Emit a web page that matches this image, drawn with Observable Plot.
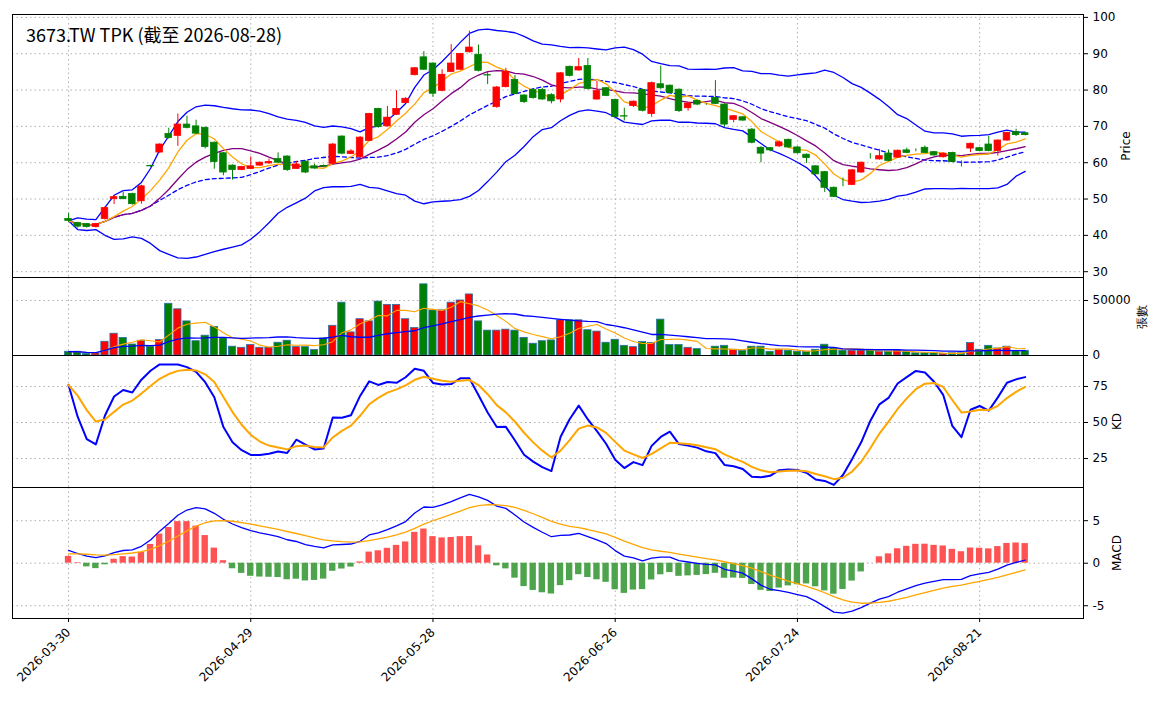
<!DOCTYPE html>
<html><head><meta charset="utf-8">
<script src="https://cdn.jsdelivr.net/npm/d3@7"></script>
<script src="https://cdn.jsdelivr.net/npm/@observablehq/plot@0.6"></script>
<style>
body{margin:0;background:#fff;font-family:"DejaVu Sans",sans-serif;}
#wrap{position:relative;width:1163px;height:703px;}
#wrap svg{display:block;}
#title{position:absolute;left:26px;top:21px;font-family:"Noto Sans CJK TC";font-size:18px;font-weight:400;z-index:2;}
</style></head><body>
<div id="wrap"><div id="title">3673.TW TPK (截至 2026-08-28)</div></div>
<script>
const tickIdx=[0,20,40,60,80,100];
const tickLabels=["2026-03-30","2026-04-29","2026-05-28","2026-06-26","2026-07-24","2026-08-21"];
const opens=[44.5,43.4,43.1,42.3,44.5,50,50.6,51.4,49.4,59.1,62.8,67.9,67.4,70.5,70,69.6,65.5,62.6,59.2,58,58.3,59.2,59.8,61,61.7,58.3,60.3,59,59.1,59.7,67.2,62.4,61.5,66,74.8,70,73.2,76.4,84.1,89,87.3,79.8,85,85.6,90.4,89.7,84.1,75.3,80.8,82.8,78.5,80,80,78.6,77.4,86.4,85.4,86.6,77.4,80.5,77.3,72.8,75.6,80,73.4,81.6,81.2,80.1,75,77,76,77.8,76,71.8,72.5,69.1,64.1,64,64.5,66.3,64.2,62.2,59,57.4,53.1,54.8,53.9,57.3,61.7,60.9,62.5,61.4,63.4,63.4,64.1,62.9,61.5,62.7,60.2,63.9,64,65,63.2,66.1,68.4,68.1];
const closes=[44,42.4,42.3,43.1,47.5,50.5,50,48.6,53.5,59,65,66.8,70.5,69.6,68,64.3,60.2,57.3,58,58.8,59,60,60.2,60,58,59.5,57.3,58.4,58.9,65,62.5,63.1,66.9,73.4,69.8,72.4,74.8,77.6,86,85.6,79,84.2,87.3,89.9,91.7,85.3,84,80.7,85,78.9,76.7,77.8,77.4,76.9,84.6,83.9,86.3,80.3,79.7,78.4,72.6,72.7,76.8,74.3,81.9,80.5,79.2,74.2,76.3,76,76,76.2,70.5,72.8,71.6,65.5,62.5,63.4,65.6,64.2,62.6,61.3,56.8,53.1,50.6,54.8,57.9,60,61.7,61.8,60.5,63.3,62.7,63.4,62.7,62,62.5,60.2,60.2,65.2,63.2,63.2,66.1,68.2,67.6,67.6];
const highs=[46,43.6,43.3,43.3,47.8,51,51.8,51.6,53.8,59.3,65.2,69.5,73.4,72.8,71.7,69.8,65.7,62.8,59.4,59,61.6,60.2,61,62.7,61.9,60.4,60.5,59.6,59.4,65.3,67.4,63.6,67.2,73.6,75,75.5,79.8,77.9,86.2,90.6,87.5,85.6,92.5,90.1,96.2,92.4,85,81,86,84,78.7,80.3,80.5,79,84.8,86.6,88.7,88.7,82.4,80.7,77.5,75,77,80.2,82.2,86.6,81.4,80.3,76.5,77.3,76.2,82.6,76.2,73,72.7,69.4,64.4,64.2,66,66.5,64.4,62.4,59.2,57.6,53.3,55.8,58.1,60.2,62.5,63.7,63.5,63.5,64,63.8,64.6,63.1,62.7,62.9,60.5,65.4,64.2,67.3,66.3,68.4,69.2,68.3];
const lows=[43.5,42,42,42,44.2,48.5,49.8,48.3,48.6,58.8,62.6,66.5,64.5,69.3,67.8,63.8,58.2,56.4,55.2,57.8,58.1,59,59.6,59.8,57.6,58.2,57,58.2,58.6,59.5,62.2,62.2,61.2,65.8,69.5,69.8,73,76.2,83.9,85.4,78,79.5,84.8,85.4,90.2,85,81.5,75,80.6,78.7,76.3,77.5,77.2,76.2,76.5,83.6,85.2,80,77.2,78.2,72.3,71.5,75.2,74,72.5,80.2,79,73.8,74.2,75.7,75.8,76,69.8,71,71.4,65.2,60,63,64.2,64,62.4,59.8,56.6,51.8,50.4,53.4,53.7,57.1,61,60.7,60.3,61.2,62.5,63,62.5,61.8,61.3,60,58.8,62.8,63,63,61.8,65.9,67.2,67.4];
const volumes=[3400,3400,1500,2000,12500,19800,16000,10000,13400,8000,14000,47000,42000,31000,13000,18000,26000,15500,8000,7000,9500,7000,7000,11600,13400,7600,7600,4900,15500,27000,48000,21000,33000,31000,49000,46000,46000,33000,25000,64700,41000,41000,48000,50000,55500,31000,22600,22600,23500,22600,16000,10700,13000,13700,32000,32000,32000,23000,21700,11600,14300,8800,7600,12200,11300,32600,9500,9500,7000,5800,0,8000,8800,5200,4300,8000,8000,3400,5200,4300,3400,3400,5200,9800,6400,4300,4300,4300,5200,3400,3400,4300,3400,2000,2000,2000,1500,2000,2000,11300,5200,8800,6400,8000,4300,4300];
const kdStart=[76,76];
const macdStart={dif:1.5,dea:1.1};

const n=closes.length;
const bars=d3.range(n).map(i=>({i,o:opens[i],c:closes[i],h:highs[i],l:lows[i],v:volumes[i],up:closes[i]>opens[i]}));
function sma(a,w){return a.map((_,i)=>d3.mean(a.slice(Math.max(0,i-w+1),i+1)));}
function sd(a,w){return a.map((_,i)=>{const s=a.slice(Math.max(0,i-w+1),i+1);const m=d3.mean(s);return Math.sqrt(d3.mean(s,x=>(x-m)**2));});}
function ema(a,w,init){const k=2/(w+1);let e=init;return a.map((x,i)=>(e=i===0?init:x*k+e*(1-k)));}
const ma5=sma(closes,5),ma10=sma(closes,10),ma20=sma(closes,20),s20=sd(closes,20);
const vma5=sma(volumes,5),vma20=sma(volumes,20);
let K=kdStart[0],D=kdStart[1];const kd=closes.map((c,i)=>{const hh=d3.max(highs.slice(Math.max(0,i-8),i+1)),ll=d3.min(lows.slice(Math.max(0,i-8),i+1));const rsv=hh===ll?50:(c-ll)/(hh-ll)*100;if(i>0){K=2/3*K+rsv/3;D=2/3*D+K/3;}return {K,D};});
const e12=ema(closes,12,closes[0]+macdStart.dif),e26=ema(closes,26,closes[0]);const dif=e12.map((x,i)=>x-e26[i]);const dea=ema(dif,9,macdStart.dea);
const rows=d3.range(n).map(i=>({i,ma5:ma5[i],ma10:ma10[i],ma20:ma20[i],up:ma20[i]+2*s20[i],lo:ma20[i]-2*s20[i],vma5:vma5[i],vma20:vma20[i],K:kd[i].K,D:kd[i].D,dif:dif[i],dea:dea[i],hist:2*(dif[i]-dea[i])}));

const RED="#ff0000",GREEN="#008000";
const xDom=[-6.15,111.4];
const common={width:1163,marginLeft:12,marginRight:80,style:{fontFamily:"DejaVu Sans",fontSize:"12px",overflow:"visible"}};
const gx=()=>Plot.gridX(tickIdx,{stroke:"#b0b0b0",strokeOpacity:1,strokeDasharray:"1.5,3"});
const gy=(t)=>Plot.gridY(t,{stroke:"#b0b0b0",strokeOpacity:1,strokeDasharray:"1.5,3"});
const fr=()=>Plot.frame({stroke:"black",strokeWidth:1});
const ax=(t,label,off)=>Plot.axisY(t,{anchor:"right",label,labelAnchor:"center",labelArrow:"none",labelOffset:off,tickSize:4,fontSize:12,tickFormat:d=>String(d)});
const ln=(y,s,extra={})=>Plot.line(rows,{x:"i",y,stroke:s,strokeWidth:1.3,...extra});

const p1=Plot.plot({...common,height:277,marginTop:14,marginBottom:0,
 x:{domain:xDom,axis:null},y:{domain:[28.4,100.8]},
 marks:[gx(),gy([30,40,50,60,70,80,90,100]),
  ln("up","blue"),ln("lo","blue"),ln("ma20","blue",{strokeDasharray:"4,3"}),ln("ma10","purple"),ln("ma5","orange"),
  Plot.ruleX(bars,{x:"i",y1:"l",y2:"h",stroke:d=>d.up?RED:GREEN,strokeWidth:1}),
  Plot.rect(bars,{x1:d=>d.i-0.36,x2:d=>d.i+0.36,y1:"o",y2:"c",fill:d=>d.up?RED:GREEN,stroke:d=>d.up?RED:GREEN,strokeWidth:0.8}),
  ax([30,40,50,60,70,80,90,100],"Price",46),fr()]});
const p2=Plot.plot({...common,height:78,marginTop:0,marginBottom:0,
 x:{domain:xDom,axis:null},y:{domain:[0,70900]},
 marks:[gx(),gy([0,50000]),
  Plot.rect(bars,{x1:d=>d.i-0.4,x2:d=>d.i+0.4,y1:0,y2:"v",fill:d=>d.up?RED:GREEN,stroke:"#2a6fa8",strokeWidth:0.8}),
  ln("vma5","orange",{strokeWidth:1.1}),ln("vma20","blue"),
  ax([0,50000],"張數",62),fr()]});
const p3=Plot.plot({...common,height:132,marginTop:0,marginBottom:0,
 x:{domain:xDom,axis:null},y:{domain:[4.9,96.5]},
 marks:[gx(),gy([25,50,75]),ln("K","blue",{strokeWidth:2}),ln("D","orange",{strokeWidth:2}),ax([25,50,75],"KD",37),fr()]});
const p4=Plot.plot({...common,height:216,marginTop:0,marginBottom:85,
 x:{domain:xDom},y:{domain:[-6.5,8.9]},
 marks:[gx(),gy([-5,0,5]),
  Plot.rect(rows,{x1:d=>d.i-0.35,x2:d=>d.i+0.35,y1:0,y2:"hist",fill:d=>d.hist>=0?"#ff4040":"#3a9a3a",fillOpacity:0.9}),
  ln("dif","blue"),ln("dea","orange"),
  ax([-5,0,5],"MACD",37),
  Plot.axisX(tickIdx,{tickFormat:(d,k)=>tickLabels[k],tickRotate:-45,tickSize:4,fontSize:12,label:null}),fr()]});
const w=document.getElementById("wrap");[p1,p2,p3,p4].forEach(p=>w.appendChild(p));
</script></body></html>
